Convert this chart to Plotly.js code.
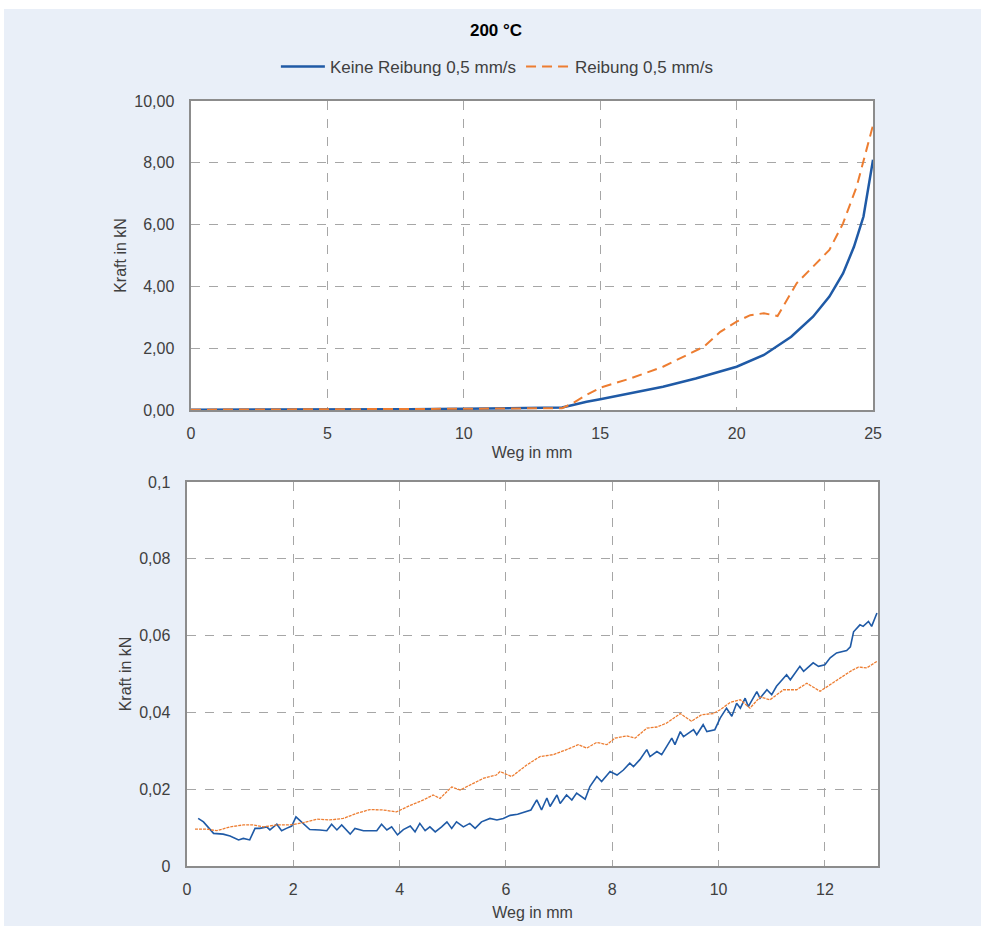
<!DOCTYPE html>
<html>
<head>
<meta charset="utf-8">
<script src="https://cdn.plot.ly/plotly-3.0.1.min.js"></script>
<style>
html,body{margin:0;padding:0;background:#ffffff;}
#chart{position:absolute;left:4px;top:9px;width:977px;height:917px;}
</style>
</head>
<body>
<div id="chart"></div>
<script>
// ---- Top chart (0-25 mm) ----
const topKeineX = [0, 2, 4, 6, 8, 10, 12, 13, 13.6, 14, 14.5, 15, 16.1, 17.3, 18.5, 20, 21, 22, 22.8, 23.4, 23.9, 24.3, 24.65, 24.82, 25];
const topKeineY = [0.01, 0.01, 0.01, 0.012, 0.025, 0.04, 0.053, 0.066, 0.08, 0.16, 0.27, 0.35, 0.54, 0.75, 1.02, 1.40, 1.78, 2.37, 3.02, 3.67, 4.42, 5.28, 6.26, 7.12, 8.1];
const topReibX = [0, 2, 4, 6, 8, 10, 12, 13, 13.6, 14, 14.5, 15, 16.1, 17.3, 18.05, 18.8, 19.4, 20, 20.5, 21, 21.5, 22.2, 22.8, 23.4, 23.9, 24.4, 25];
const topReibY = [0.01, 0.011, 0.015, 0.025, 0.033, 0.041, 0.047, 0.053, 0.06, 0.22, 0.49, 0.72, 1.02, 1.40, 1.73, 2.05, 2.53, 2.86, 3.07, 3.13, 3.04, 4.10, 4.64, 5.18, 6.04, 7.23, 9.22];

// ---- Bottom chart (0-13 mm, zoom) ----
const botKeineX = [0.21, 0.31, 0.50, 0.68, 0.81, 0.97, 1.06, 1.18, 1.28, 1.37, 1.50, 1.56, 1.69, 1.78, 1.87, 1.97, 2.05, 2.16, 2.31, 2.50, 2.63, 2.72, 2.82, 2.91, 3.07, 3.16, 3.32, 3.57, 3.66, 3.76, 3.85, 3.96, 4.07, 4.20, 4.29, 4.38, 4.48, 4.57, 4.67, 4.79, 4.89, 4.98, 5.07, 5.20, 5.32, 5.42, 5.54, 5.70, 5.83, 5.95, 6.08, 6.22, 6.35, 6.47, 6.58, 6.67, 6.77, 6.83, 6.96, 7.02, 7.14, 7.24, 7.33, 7.49, 7.58, 7.71, 7.80, 7.96, 8.09, 8.21, 8.33, 8.40, 8.52, 8.65, 8.71, 8.84, 8.93, 9.02, 9.12, 9.18, 9.28, 9.34, 9.53, 9.59, 9.71, 9.78, 9.93, 10.03, 10.15, 10.25, 10.34, 10.41, 10.50, 10.56, 10.72, 10.78, 10.91, 11.00, 11.09, 11.28, 11.35, 11.53, 11.60, 11.78, 11.88, 12.00, 12.10, 12.22, 12.41, 12.48, 12.54, 12.66, 12.72, 12.82, 12.88, 12.98];
const botKeineY = [0.0124, 0.0115, 0.0085, 0.0083, 0.0078, 0.0068, 0.0072, 0.0068, 0.0098, 0.0098, 0.0102, 0.0094, 0.0109, 0.0092, 0.0098, 0.0104, 0.0128, 0.0115, 0.0095, 0.0094, 0.0092, 0.0109, 0.0094, 0.0107, 0.0083, 0.0098, 0.0092, 0.0092, 0.0109, 0.0094, 0.0102, 0.0081, 0.0095, 0.0104, 0.0089, 0.0111, 0.0092, 0.0102, 0.0089, 0.0102, 0.0115, 0.0098, 0.0115, 0.0102, 0.0111, 0.0098, 0.0115, 0.0124, 0.0120, 0.0124, 0.0132, 0.0135, 0.0140, 0.0146, 0.0172, 0.0146, 0.0177, 0.0155, 0.0185, 0.0163, 0.0185, 0.0172, 0.0190, 0.0174, 0.0207, 0.0233, 0.0220, 0.0246, 0.0237, 0.0250, 0.0268, 0.0259, 0.0277, 0.0303, 0.0285, 0.0298, 0.0290, 0.0311, 0.0333, 0.0316, 0.0350, 0.0337, 0.0355, 0.0342, 0.0368, 0.0350, 0.0355, 0.0385, 0.0411, 0.0390, 0.0424, 0.0411, 0.0437, 0.0415, 0.0454, 0.0437, 0.0459, 0.0446, 0.0468, 0.0498, 0.0485, 0.0520, 0.0507, 0.0529, 0.0520, 0.0524, 0.0542, 0.0555, 0.0561, 0.0571, 0.0610, 0.0628, 0.0624, 0.0637, 0.0624, 0.0659];
const botReibX = [0.15, 0.37, 0.56, 0.81, 1.06, 1.25, 1.44, 1.69, 1.94, 2.19, 2.44, 2.69, 2.94, 3.19, 3.44, 3.69, 3.94, 4.20, 4.45, 4.63, 4.76, 4.98, 5.14, 5.32, 5.57, 5.82, 5.89, 6.11, 6.39, 6.64, 6.89, 7.14, 7.36, 7.52, 7.71, 7.90, 8.05, 8.27, 8.43, 8.65, 8.84, 9.02, 9.28, 9.49, 9.68, 9.90, 10.03, 10.22, 10.41, 10.59, 10.78, 10.97, 11.22, 11.47, 11.66, 11.91, 12.10, 12.29, 12.48, 12.63, 12.79, 12.98];
const botReibY = [0.0096, 0.0096, 0.0092, 0.0102, 0.0107, 0.0107, 0.0102, 0.0107, 0.0107, 0.0113, 0.0122, 0.0120, 0.0124, 0.0137, 0.0147, 0.0146, 0.0141, 0.0158, 0.0172, 0.0185, 0.0176, 0.0206, 0.0198, 0.0211, 0.0228, 0.0237, 0.0246, 0.0233, 0.0263, 0.0285, 0.0290, 0.0303, 0.0316, 0.0307, 0.0322, 0.0316, 0.0333, 0.0339, 0.0333, 0.0359, 0.0362, 0.0372, 0.0397, 0.0377, 0.0394, 0.0397, 0.0407, 0.0426, 0.0433, 0.0411, 0.0440, 0.0433, 0.0459, 0.0459, 0.0476, 0.0455, 0.0472, 0.0490, 0.0507, 0.0518, 0.0516, 0.0533];

const botYTickVals = [0, 0.02, 0.04, 0.06, 0.08, 0.1];
const botYTickText = ['0', '0,02', '0,04', '0,06', '0,08', '0,1'];

const seriesNames = ['Keine Reibung 0,5 mm/s', 'Reibung 0,5 mm/s'];
const BLUE = '#1F5AA6';
const ORANGE = '#ED7D31';

const traces = [
  {x: topKeineX, y: topKeineY, type: 'scatter', mode: 'lines', name: seriesNames[0],
   line: {color: BLUE, width: 2.5}, xaxis: 'x', yaxis: 'y'},
  {x: topReibX, y: topReibY, type: 'scatter', mode: 'lines', name: seriesNames[1],
   line: {color: ORANGE, width: 2, dash: '10px,6px'}, xaxis: 'x', yaxis: 'y'},
  {x: botKeineX, y: botKeineY, type: 'scatter', mode: 'lines', name: seriesNames[0], showlegend: false,
   line: {color: BLUE, width: 1.6}, xaxis: 'x2', yaxis: 'y2'},
  {x: botReibX, y: botReibY, type: 'scatter', mode: 'lines', name: seriesNames[1], showlegend: false,
   line: {color: ORANGE, width: 1.3, dash: '3px,1px'}, xaxis: 'x2', yaxis: 'y2'}
];

const TXT = '#404040';
const axisCommon = {
  showline: true, mirror: true, linecolor: '#8C8C8C', linewidth: 1.5,
  showgrid: true, gridcolor: '#A6A6A6', griddash: 'dash', gridwidth: 1,
  zeroline: false, ticks: '', tickfont: {size: 16, color: TXT},
  fixedrange: true
};

const layout = {
  width: 977, height: 917,
  paper_bgcolor: '#E9EFF8', plot_bgcolor: '#FFFFFF',
  margin: {l: 0, r: 0, t: 0, b: 0},
  separators: ',.',
  font: {family: 'Liberation Sans, Arial, sans-serif', color: TXT, size: 16},
  title: {text: '<b>200 °C</b>', x: 0.5036, xanchor: 'center', y: 0.977, yanchor: 'middle',
          xref: 'paper', yref: 'paper', font: {size: 17, color: '#000000'}},
  showlegend: true,
  legend: {orientation: 'h', x: 0.505, xanchor: 'center', y: 0.9367, yanchor: 'middle',
           bgcolor: 'rgba(0,0,0,0)', font: {size: 17, color: TXT}, itemwidth: 44, tracegroupgap: 0},
  xaxis: Object.assign({}, axisCommon, {
    domain: [0.1914, 0.8895], anchor: 'y', range: [0, 25], dtick: 5, tick0: 0,
    ticklabelstandoff: 8,
    title: {text: 'Weg in mm', font: {size: 16, color: TXT}, standoff: 6}
  }),
  yaxis: Object.assign({}, axisCommon, {
    domain: [0.5627, 0.8997], anchor: 'x', range: [0, 10], dtick: 2, tick0: 0, tickformat: '.2f',
    title: {text: 'Kraft in kN', font: {size: 16, color: TXT}, standoff: 3},
    ticklabelstandoff: 12
  }),
  xaxis2: Object.assign({}, axisCommon, {
    domain: [0.1873, 0.8946], anchor: 'y2', range: [0, 13], dtick: 2, tick0: 0,
    ticklabelstandoff: 8,
    title: {text: 'Weg in mm', font: {size: 16, color: TXT}, standoff: 10}
  }),
  yaxis2: Object.assign({}, axisCommon, {
    domain: [0.0654, 0.4842], anchor: 'x2', range: [0, 0.1],
    tickmode: 'array', tickvals: botYTickVals, ticktext: botYTickText,
    title: {text: 'Kraft in kN', font: {size: 16, color: TXT}, standoff: 3},
    ticklabelstandoff: 12
  })
};

Plotly.newPlot('chart', traces, layout, {displayModeBar: false, staticPlot: true});
</script>
</body>
</html>
